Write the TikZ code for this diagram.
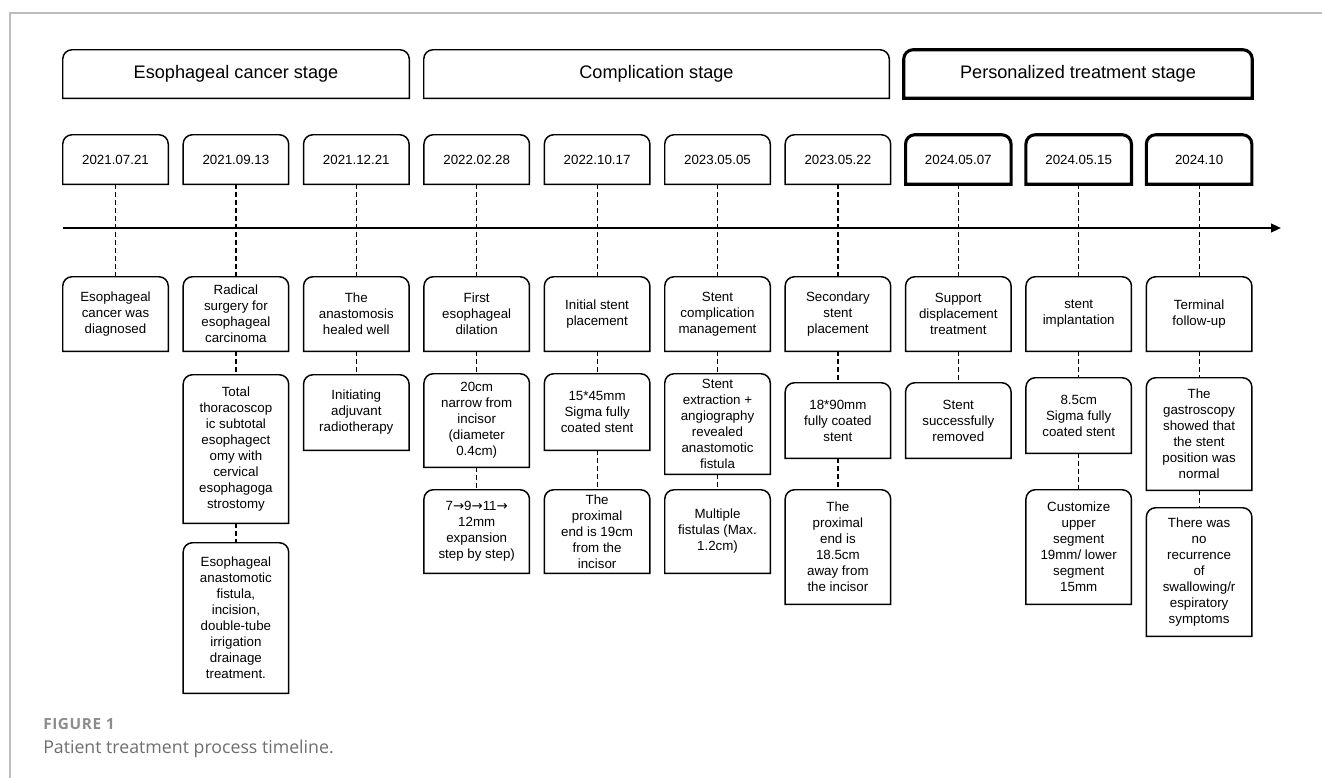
\documentclass[tikz,border=0pt]{standalone}
\usepackage{fontspec}
\setmainfont{Liberation Sans}
\newfontfamily\arrowfont{DejaVu Sans}
\newfontfamily\capfont{Open Sans}
\newfontfamily\capfontsp[LetterSpace=4]{Open Sans}
\usetikzlibrary{arrows.meta,calc}
\newcommand\myrarr{{\arrowfont\char"2192}}
\definecolor{framegray}{HTML}{BDBDBD}
\definecolor{capgray}{HTML}{8C8C8C}
\definecolor{captext}{HTML}{6E6E6E}
\tikzset{
  boxline/.style={line width=1.1pt, draw=black},
  thickline/.style={line width=2.3pt, draw=black},
  txt/.style={inner sep=0pt, align=center, font=\fontsize{10}{12}\selectfont},
  stagetxt/.style={inner sep=0pt, align=center, font=\fontsize{13.6}{16}\selectfont},
  dashline/.style={line width=0.9pt, dash pattern=on 3.6pt off 2.4pt},
  timeline/.style={line width=1.6pt, -{Triangle[length=7.5pt,width=6.5pt]}},
}
\newcommand\mytbout[2][boxline]{%
  \draw[#1] (#2.south west) -- ([yshift=-7pt]#2.north west)
    arc[start angle=180,end angle=90,radius=7pt]
    -- ([xshift=-7pt]#2.north east)
    arc[start angle=90,end angle=0,radius=7pt]
    -- (#2.south east) -- cycle;}
% column box: [style]{name}{col}{top}{bottom}{text}
\newcommand\mycolbox[6][boxline]{%
  \pgfmathsetmacro\mycx{115.5+120.4*(#3-1)}%
  \node[txt, minimum width=78.75pt, minimum height={(#5-#4)*0.75pt}] (#2) at (\mycx,{(#4+#5)/2}) {#6};
  \mytbout[#1]{#2}}
% stage box: [style]{name}{left}{right}{text}
\newcommand\mystagebox[5][boxline]{%
  \node[stagetxt, minimum width={(#4-#3)*0.75pt}, minimum height={48*0.75pt}] (#2) at ({(#3+#4)/2},74) {#5};
  \mytbout[#1]{#2}}
\begin{document}
\begin{tikzpicture}[x=0.75pt,y=-0.75pt]
\useasboundingbox (0,0) rectangle (1322,778);
\draw[framegray, line width=1.1pt] (10,778) -- (10,13) -- (1322,13);

% stages
\mystagebox{s1}{63}{409}{Esophageal cancer stage}
\mystagebox{s2}{424}{889}{Complication stage}
\mystagebox[thickline]{s3}{904}{1252}{Personalized treatment stage}

% dates
\mycolbox{d1}{1}{135}{184}{2021.07.21}
\mycolbox{d2}{2}{135}{184}{2021.09.13}
\mycolbox{d3}{3}{135}{184}{2021.12.21}
\mycolbox{d4}{4}{135}{184}{2022.02.28}
\mycolbox{d5}{5}{135}{184}{2022.10.17}
\mycolbox{d6}{6}{135}{184}{2023.05.05}
\mycolbox{d7}{7}{135}{184}{2023.05.22}
\mycolbox[thickline]{d8}{8}{135}{184}{2024.05.07}
\mycolbox[thickline]{d9}{9}{135}{184}{2024.05.15}
\mycolbox[thickline]{d10}{10}{135}{184}{2024.10}

% timeline
\coordinate (t0) at (63,228);
\coordinate (t1) at (1281,228);
\draw[timeline] (t0) -- (t1);

% row 1
\mycolbox{a1}{1}{277}{351}{Esophageal\\cancer was\\diagnosed}
\mycolbox{a2}{2}{277}{351}{Radical\\surgery for\\esophageal\\carcinoma}
\mycolbox{a3}{3}{277}{351}{The\\anastomosis\\healed well}
\mycolbox{a4}{4}{277}{351}{First\\esophageal\\dilation}
\mycolbox{a5}{5}{277}{351}{Initial stent\\placement}
\mycolbox{a6}{6}{277}{351}{Stent\\complication\\management}
\mycolbox{a7}{7}{277}{351}{Secondary\\stent\\placement}
\mycolbox{a8}{8}{277}{351}{Support\\displacement\\treatment}
\mycolbox{a9}{9}{277}{351}{stent\\implantation}
\mycolbox{a10}{10}{277}{351}{Terminal\\follow-up}

% row 2
\mycolbox{b2}{2}{375}{523}{Total\\thoracoscop\\ic subtotal\\esophagect\\omy with\\cervical\\esophagoga\\strostomy}
\mycolbox{b3}{3}{375}{450}{Initiating\\adjuvant\\radiotherapy}
\mycolbox{b4}{4}{374}{467}{20cm\\narrow from\\incisor\\(diameter\\0.4cm)}
\mycolbox{b5}{5}{374}{450}{15*45mm\\Sigma fully\\coated stent}
\mycolbox{b6}{6}{374}{474}{Stent\\extraction +\\angiography\\revealed\\anastomotic\\fistula}
\mycolbox{b7}{7}{383}{458}{18*90mm\\fully coated\\stent}
\mycolbox{b8}{8}{383}{458}{Stent\\successfully\\removed}
\mycolbox{b9}{9}{378}{453}{8.5cm\\Sigma fully\\coated stent}
\mycolbox{b10}{10}{378}{490}{The\\gastroscopy\\showed that\\the stent\\position was\\normal}

% row 3
\mycolbox{c2}{2}{543}{693}{Esophageal\\anastomotic\\fistula,\\incision,\\double-tube\\irrigation\\drainage\\treatment.}
\mycolbox{c4}{4}{490}{573}{7\myrarr9\myrarr11\myrarr\\12mm\\expansion\\step by step)}
\mycolbox{c5}{5}{490}{573}{The\\proximal\\end is 19cm\\from the\\incisor}
\mycolbox{c6}{6}{490}{573}{Multiple\\fistulas (Max.\\1.2cm)}
\mycolbox{c7}{7}{490}{604}{The\\proximal\\end is\\18.5cm\\away from\\the incisor}
\mycolbox{c9}{9}{490}{604}{Customize\\upper\\segment\\19mm/ lower\\segment\\15mm}
\mycolbox{c10}{10}{508}{636}{There was\\no\\recurrence\\of\\swallowing/r\\espiratory\\symptoms}

% connectors
\foreach \i in {1,...,10} {\draw[dashline] (d\i.south) -- (a\i.north);}
\foreach \i in {2,...,10} {\draw[dashline] (a\i.south) -- (b\i.north);}
\foreach \i in {2,4,5,6,7,9,10} {\draw[dashline] (b\i.south) -- (c\i.north);}

% caption
\node[anchor=base west, inner sep=0pt, text=capgray, font=\capfontsp\bfseries\fontsize{11.5}{13}\selectfont] (figlab) at (43,729) {FIGURE 1};
\node[anchor=base west, inner sep=0pt, text=captext, font=\capfont\fontsize{13.3}{15}\selectfont] (figcap) at (43,753) {Patient treatment process timeline.};
\end{tikzpicture}
\end{document}
